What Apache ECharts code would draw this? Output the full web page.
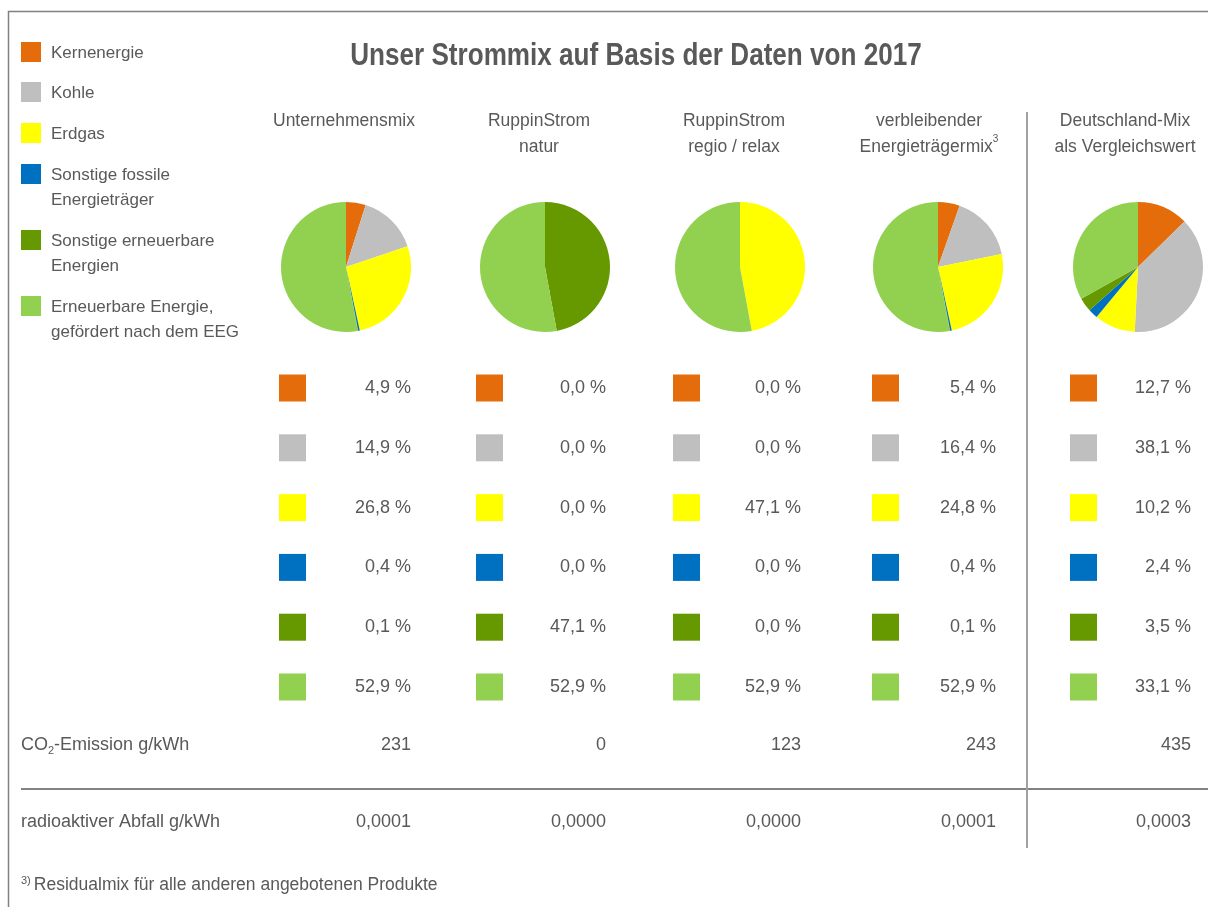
<!DOCTYPE html>
<html>
<head>
<meta charset="utf-8">
<script src="https://cdn.jsdelivr.net/npm/echarts@6/dist/echarts.min.js"></script>
<style>
html,body{margin:0;padding:0;background:#fff;}
#chart{width:1208px;height:907px;}
</style>
</head>
<body>
<div id="chart"></div>
<script>
// ---- data ----
const categories = ['Kernenergie', 'Kohle', 'Erdgas', 'Sonstige fossile Energieträger', 'Sonstige erneuerbare Energien', 'Erneuerbare Energie, gefördert nach dem EEG'];
const legendLabels = ['Kernenergie', 'Kohle', 'Erdgas', 'Sonstige fossile\nEnergieträger', 'Sonstige erneuerbare\nEnergien', 'Erneuerbare Energie,\ngefördert nach dem EEG'];
const colors = ['#E46C0A', '#BFBFBF', '#FFFF00', '#0070C0', '#669900', '#92D050'];
const columnTitles = ['Unternehmensmix', 'RuppinStrom\nnatur', 'RuppinStrom\nregio / relax', 'verbleibender\nEnergieträgermix{sup|3}', 'Deutschland-Mix\nals Vergleichswert'];
const unternehmensmix = [4.9, 14.9, 26.8, 0.4, 0.1, 52.9];
const ruppinNatur = [0.0, 0.0, 0.0, 0.0, 47.1, 52.9];
const ruppinRegio = [0.0, 0.0, 47.1, 0.0, 0.0, 52.9];
const verbleibend = [5.4, 16.4, 24.8, 0.4, 0.1, 52.9];
const deutschland = [12.7, 38.1, 10.2, 2.4, 3.5, 33.1];
const co2Emission = [231, 0, 123, 243, 435];
const radioaktiv = [0.0001, 0.0000, 0.0000, 0.0001, 0.0003];
const title = 'Unser Strommix auf Basis der Daten von 2017';
const footnote = 'Residualmix für alle anderen angebotenen Produkte';

// ---- layout ----
const seriesValues = [unternehmensmix, ruppinNatur, ruppinRegio, verbleibend, deutschland];
const pieCenterX = [346, 545, 740, 938, 1138];
const headerCenterX = [344, 539, 734, 929, 1125];
const squareX = [279, 476, 673, 872, 1070];
const valueRightX = [411, 606, 801, 996, 1191];
const pieCenterY = 267, pieRadius = 65;
const rowY0 = 388, rowStep = 59.8;
const legendY = [52, 92, 133, 174, 240, 306];
const textColor = '#595959';
const FONT = '"Liberation Sans", Arial, sans-serif';
const fmt = (v, d) => v.toFixed(d).replace('.', ',');

const chart = echarts.init(document.getElementById('chart'), null, {renderer: 'canvas'});

const series = seriesValues.map((vals, i) => ({
  type: 'pie',
  center: [pieCenterX[i], pieCenterY],
  radius: pieRadius,
  startAngle: 90,
  clockwise: true,
  silent: true,
  animation: false,
  label: {show: false},
  labelLine: {show: false},
  itemStyle: {borderWidth: 0},
  emphasis: {disabled: true},
  data: vals.map((v, k) => ({name: categories[k], value: v, itemStyle: {color: colors[k]}}))
}));

const graphics = [];
// frame
graphics.push({type: 'polyline', shape: {points: [[8.5, 907], [8.5, 11.5], [1208, 11.5]]}, style: {stroke: '#808080', lineWidth: 1.5, fill: null}});
// title (narrow bold face)
graphics.push({type: 'text', x: 636, y: 56, scaleX: 0.842, style: {text: title, font: 'bold 31px ' + FONT, fill: textColor, align: 'center', verticalAlign: 'middle'}});
// legend
legendLabels.forEach((lab, k) => {
  graphics.push({type: 'rect', shape: {x: 21, y: legendY[k] - 10, width: 20, height: 20}, style: {fill: colors[k]}});
  graphics.push({type: 'text', x: 51, y: legendY[k] - 11, style: {text: lab, font: '17px ' + FONT, fill: textColor, align: 'left', verticalAlign: 'top', lineHeight: 25}});
});
// column headers
columnTitles.forEach((t, i) => {
  graphics.push({type: 'text', x: headerCenterX[i], y: 108, style: {
    text: t, font: '17.5px ' + FONT, fill: textColor, align: 'center', verticalAlign: 'top', lineHeight: 26,
    rich: {sup: {fontSize: 10, verticalAlign: 'top', fill: textColor, lineHeight: 26, padding: [0, 0, 10, 0]}}
  }});
});
// table of percentages
seriesValues.forEach((vals, i) => {
  vals.forEach((v, k) => {
    const y = rowY0 + k * rowStep;
    graphics.push({type: 'rect', shape: {x: squareX[i], y: y - 13.5, width: 27, height: 27}, style: {fill: colors[k]}});
    graphics.push({type: 'text', x: valueRightX[i], y: y, style: {text: fmt(v, 1) + ' %', font: '18px ' + FONT, fill: textColor, align: 'right', verticalAlign: 'middle'}});
  });
});
// CO2 row
const co2Y = 745, radY = 822;
graphics.push({type: 'text', x: 21, y: co2Y, style: {
  text: 'CO{sub|2}-Emission g/kWh', font: '18px ' + FONT, fill: textColor, align: 'left', verticalAlign: 'middle',
  rich: {sub: {fontSize: 11, fill: textColor, padding: [12, 0, 0, 0]}}
}});
co2Emission.forEach((v, i) => {
  graphics.push({type: 'text', x: valueRightX[i], y: co2Y, style: {text: String(v), font: '18px ' + FONT, fill: textColor, align: 'right', verticalAlign: 'middle'}});
});
// separators
graphics.push({type: 'line', shape: {x1: 21, y1: 789, x2: 1208, y2: 789}, style: {stroke: '#595959', lineWidth: 1.5}});
graphics.push({type: 'line', shape: {x1: 1027, y1: 112, x2: 1027, y2: 848}, style: {stroke: '#A0A0A0', lineWidth: 2}});
// radioactive row
graphics.push({type: 'text', x: 21, y: radY, style: {text: 'radioaktiver Abfall g/kWh', font: '18px ' + FONT, fill: textColor, align: 'left', verticalAlign: 'middle'}});
radioaktiv.forEach((v, i) => {
  graphics.push({type: 'text', x: valueRightX[i], y: radY, style: {text: fmt(v, 4), font: '18px ' + FONT, fill: textColor, align: 'right', verticalAlign: 'middle'}});
});
// footnote
graphics.push({type: 'text', x: 21, y: 885, style: {
  text: '{sup|3)}' + footnote, font: '17.5px ' + FONT, fill: textColor, align: 'left', verticalAlign: 'middle',
  rich: {sup: {fontSize: 11, fill: textColor, padding: [0, 3, 8, 0]}}
}});

chart.setOption({
  backgroundColor: '#ffffff',
  animation: false,
  series: series,
  graphic: {elements: graphics}
});
</script>
</body>
</html>
